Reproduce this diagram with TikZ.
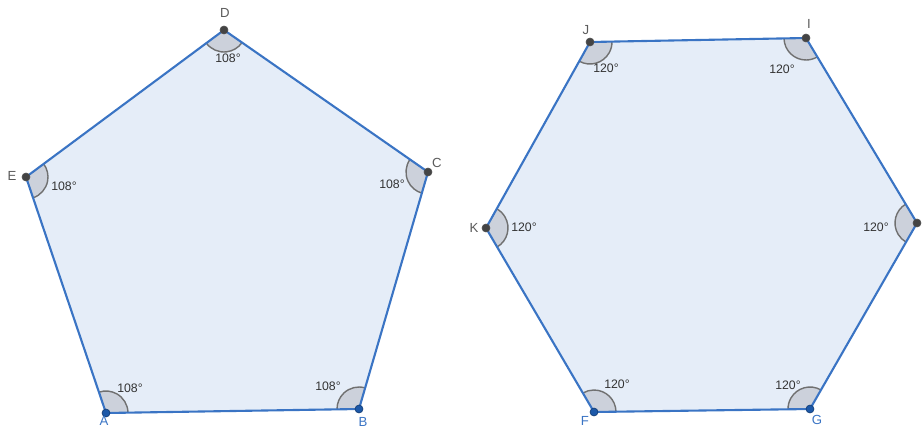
\documentclass[tikz,border=0pt]{standalone}
\usepackage{fontspec}
\setmainfont{Liberation Sans}
\usepackage{tikz}
\usetikzlibrary{positioning, angles}
\definecolor{edgeblue}{RGB}{58,116,196}
\definecolor{facefill}{RGB}{229,237,248}
\definecolor{arcfill}{RGB}{204,209,219}
\definecolor{arcgray}{RGB}{112,112,112}
\definecolor{dotgray}{RGB}{68,68,68}
\definecolor{dotblue}{RGB}{28,88,168}
\definecolor{labgray}{RGB}{90,90,90}

\begin{document}
\begin{tikzpicture}[
    x=0.02cm, y=-0.02cm,
    face/.style={fill=facefill},
    edge/.style={draw=edgeblue, line width=1.2pt, line join=round},
    ang/.style={draw=arcgray, fill=arcfill, line width=0.8pt, angle radius=0.44cm},
    pt/.style={circle, draw=black!70, fill=dotgray, inner sep=0pt, minimum size=4.5pt},
    ptb/.style={pt, draw=dotblue!70!black, fill=dotblue},
    vlab/.style={font=\fontsize{7.5}{9}\selectfont, text=labgray},
    vlabb/.style={vlab, text=edgeblue},
    alab/.style={font=\fontsize{7}{8}\selectfont, text=black!80},
]
\useasboundingbox (0,0) rectangle (924,427);

% Pentagon vertices
\coordinate (A) at (106,413);
\coordinate (B) at (359,409);
\coordinate (C) at (428,172);
\coordinate (D) at (224,30);
\coordinate (E) at (26,177);

% Hexagon vertices
\coordinate (F) at (594,412);
\coordinate (G) at (810,409);
\coordinate (H) at (917,223);
\coordinate (I) at (806,38);
\coordinate (J) at (590,42);
\coordinate (K) at (486,228);

% Faces
\fill[face] (A) -- (B) -- (C) -- (D) -- (E) -- cycle;
\fill[face] (F) -- (G) -- (H) -- (I) -- (J) -- (K) -- cycle;

% Interior angles
\pic[ang] {angle=B--A--E};
\pic[ang] {angle=C--B--A};
\pic[ang] {angle=D--C--B};
\pic[ang] {angle=E--D--C};
\pic[ang] {angle=A--E--D};
\pic[ang] {angle=G--F--K};
\pic[ang] {angle=H--G--F};
\pic[ang] {angle=I--H--G};
\pic[ang] {angle=J--I--H};
\pic[ang] {angle=K--J--I};
\pic[ang] {angle=F--K--J};

% Edges
\draw[edge] (A) -- (B) -- (C) -- (D) -- (E) -- cycle;
\draw[edge] (F) -- (G) -- (H) -- (I) -- (J) -- (K) -- cycle;

% Points
\node[ptb] (pA) at (A) {};
\node[ptb] (pB) at (B) {};
\node[pt] (pC) at (C) {};
\node[pt] (pD) at (D) {};
\node[pt] (pE) at (E) {};
\node[ptb] (pF) at (F) {};
\node[ptb] (pG) at (G) {};
\node[pt] (pH) at (H) {};
\node[pt] (pI) at (I) {};
\node[pt] (pJ) at (J) {};
\node[pt] (pK) at (K) {};

% Vertex labels
\node[vlabb] (lA) at (104,421) {A};
\node[vlabb] (lB) at (363,422) {B};
\node[vlab] (lC) at (437,163) {C};
\node[vlab] (lD) at (225,13) {D};
\node[vlab] (lE) at (12,176) {E};
\node[vlabb] (lF) at (585,421) {F};
\node[vlabb] (lG) at (817,420) {G};
\node[vlab] (lI) at (809,24) {I};
\node[vlab] (lJ) at (586,30) {J};
\node[vlab] (lK) at (474,228) {K};

% Angle values
\node[alab] (aA) at (130,388) {108°};
\node[alab] (aB) at (328,386) {108°};
\node[alab] (aC) at (392,184) {108°};
\node[alab] (aD) at (228,58) {108°};
\node[alab] (aE) at (64,186) {108°};
\node[alab] (aF) at (617,384) {120°};
\node[alab] (aG) at (788,385) {120°};
\node[alab] (aH) at (876,227) {120°};
\node[alab] (aI) at (782,69) {120°};
\node[alab] (aJ) at (606,68) {120°};
\node[alab] (aK) at (524,227) {120°};
\end{tikzpicture}
\end{document}
